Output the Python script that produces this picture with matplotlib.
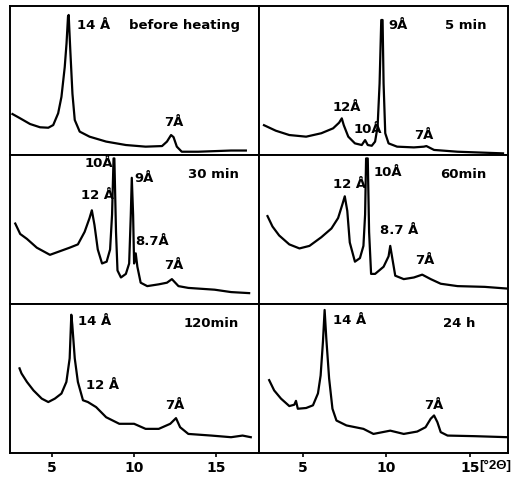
import numpy as np
import matplotlib
matplotlib.use("Agg")
import matplotlib.pyplot as plt
import matplotlib.transforms as mtransforms

# 読み取った回折パターン (x: °2θ, y: パネル高さに対する%)
before_x = [2.6, 3.07, 3.67, 4.28, 4.78, 5.08, 5.38, 5.58, 5.78, 5.89, 5.98, 6.02, 6.12, 6.25,
            6.39, 6.69, 7.29, 8.3, 9.5, 10.7, 11.7, 12.0, 12.25, 12.4, 12.6, 12.9, 13.9, 15.9, 16.8]
before_y = [27.5, 24.6, 20.8, 18.6, 18.3, 20.1, 28, 39, 59, 75, 93, 94, 70, 41,
            23.5, 15.7, 12.3, 9, 6.7, 5.6, 6, 9, 13.4, 12, 5.6, 2.2, 2.2, 3, 3]

min5_x = [2.65, 3.36, 4.17, 5.18, 6.09, 6.8, 7.16, 7.32, 7.44, 7.71, 8.11, 8.52, 8.72, 8.88,
          9.12, 9.32, 9.47, 9.59, 9.69, 9.77, 9.83, 9.93, 10.13, 10.64, 11.65, 12.25, 12.4,
          12.86, 14.27, 17.0]
min5_y = [20, 16.3, 13.4, 12.3, 14.6, 17.9, 21.7, 24.6, 20, 12.3, 7.8, 6.7, 10, 6.7,
          6.2, 9, 19, 48, 90.6, 90.6, 48, 14.6, 7.8, 5.6, 5.1, 5.6, 6,
          3.4, 2.2, 1.1]

min30_x = [2.77, 3.07, 3.48, 4.08, 4.88, 5.48, 6.08, 6.58, 6.99, 7.29, 7.43, 7.59, 7.79, 8.05,
           8.33, 8.54, 8.66, 8.75, 8.8, 8.9, 8.99, 9.2, 9.5, 9.7, 9.8, 9.86, 9.94, 10.0, 10.1,
           10.2, 10.4, 10.8, 11.5, 12.0, 12.3, 12.7, 13.3, 14.9, 15.9, 17.0]
min30_y = [54, 47, 43.7, 37.8, 33, 35.4, 37.8, 40, 48.4, 57.7, 62.9, 53, 36.6, 27.2,
           28.4, 36.6, 60, 97.7, 97.7, 48.4, 22.5, 17.8, 20.2, 27.2, 60, 84.7, 60, 27.2, 34,
           25, 14.3, 12, 13.2, 14.3, 16.7, 12, 10.8, 9.6, 8, 7.3]

min60_x = [2.86, 3.16, 3.56, 4.17, 4.78, 5.38, 6.09, 6.7, 7.1, 7.36, 7.5, 7.65, 7.8, 8.11,
           8.41, 8.62, 8.72, 8.78, 8.88, 8.96, 9.08, 9.32, 9.83, 10.13, 10.23, 10.37, 10.53,
           11.04, 11.65, 12.15, 12.66, 13.26, 14.27, 15.9, 17.2]
min60_y = [59, 52, 46, 40, 37.3, 39, 44.8, 50.7, 57.7, 67, 72.3, 62.5, 41.3, 28.4,
           30.8, 39, 60, 97.7, 97.7, 48.4, 20.2, 20.2, 25, 32, 39, 29.6, 19,
           16.7, 17.8, 19.7, 16.7, 13.6, 12, 11.5, 10.4]

min120_x = [3.03, 3.15, 3.48, 3.88, 4.38, 4.78, 5.18, 5.58, 5.88, 6.08, 6.18, 6.24, 6.39, 6.58,
            6.89, 7.19, 7.69, 8.3, 9.1, 10.0, 10.7, 11.5, 12.2, 12.55, 12.8, 13.3, 14.7,
            15.9, 16.6, 17.1]
min120_y = [56.8, 53.4, 47.7, 42, 36.5, 34.2, 36.5, 39.9, 47.7, 63.5, 92.8, 86, 63.5, 47.7,
            35.4, 34.2, 30.8, 24, 19.6, 19.6, 16.2, 16.2, 19.6, 23.4, 17.3, 12.8, 11.7,
            10.6, 11.7, 10.6]

h24_x = [2.96, 3.26, 3.67, 4.17, 4.47, 4.57, 4.68, 5.18, 5.59, 5.89, 6.05, 6.19, 6.29, 6.39,
         6.56, 6.76, 7.0, 7.6, 8.62, 9.22, 10.23, 11.04, 11.85, 12.35, 12.66, 12.86, 13.06,
         13.26, 13.67, 15.28, 17.3]
h24_y = [48.9, 42, 36.5, 31.5, 32.4, 35, 29.7, 30.2, 32, 40, 52, 74.8, 96, 77,
         50, 29.7, 21.8, 18.5, 16.2, 12.8, 15, 12.8, 14.4, 17.3, 23, 25.2, 20.7,
         14, 11.7, 11.3, 10.6]

titles = ["before heating", "5 min", "30 min", "60min", "120min", "24 h"]
title_x = [9.7, 13.5, 13.3, 13.2, 13.0, 13.4]

# ピーク注記 (文字, x, y)
peak_labels = [
    [("14 Å", 6.5, 87), ("7Å", 11.8, 21.5)],
    [("9Å", 10.13, 87), ("12Å", 6.76, 32), ("10Å", 8.0, 17), ("7Å", 11.65, 13)],
    [("10Å", 7.0, 94), ("9Å", 10.0, 84.5), ("12 Å", 6.8, 72.5), ("8.7Å", 10.1, 42), ("7Å", 11.8, 26)],
    [("12 Å", 6.8, 80), ("10Å", 9.2, 88), ("8.7 Å", 9.6, 49), ("7Å", 11.7, 29)],
    [("14 Å", 6.6, 88.5), ("12 Å", 7.1, 45), ("7Å", 11.9, 32)],
    [("14 Å", 6.8, 89), ("7Å", 12.25, 32)],
]

xs = [before_x, min5_x, min30_x, min60_x, min120_x, h24_x]
ys = [before_y, min5_y, min30_y, min60_y, min120_y, h24_y]
xlims = [(2.45, 17.6), (2.35, 17.3)]
ticks = [5, 10, 15]

plt.rcParams['font.family'] = ['DejaVu Sans']
fig, axes = plt.subplots(3, 2, figsize=(5.19, 4.78), dpi=100)
fig.subplots_adjust(left=10/519, right=508/519, bottom=1-453/478, top=1-6/478,
                    hspace=0, wspace=0)

for i, ax in enumerate(axes.flat):
    col = i % 2
    row = i // 2
    ax.plot(xs[i], ys[i], color='black', lw=1.6, solid_joinstyle='round')
    ax.set_xlim(*xlims[col])
    ax.set_ylim(0, 100)
    ax.set_yticks([])
    for s in ax.spines.values():
        s.set_linewidth(1.4)
    ax.text(title_x[i], 87, titles[i], ha='left', va='center', fontsize=9.5, fontweight='bold')
    for txt, lx, ly in peak_labels[i]:
        ax.text(lx, ly, txt, ha='left', va='center', fontsize=9.5, fontweight='bold')
    if row == 2:
        ax.set_xticks(ticks)
        ax.set_xticklabels([str(t) for t in ticks], fontsize=10, fontweight='bold')
        ax.tick_params(axis='x', direction='out', length=3, width=1.2, pad=3)
    else:
        ax.set_xticks([])

# 軸単位
trans = mtransforms.blended_transform_factory(axes[2, 1].transData, axes[2, 1].transAxes)
axes[2, 1].text(15.55, -0.045, "[°2Θ]", transform=trans, ha='left', va='top',
                fontsize=9.5, fontweight='bold', family='Liberation Sans')

plt.savefig("out.png", dpi=100)
